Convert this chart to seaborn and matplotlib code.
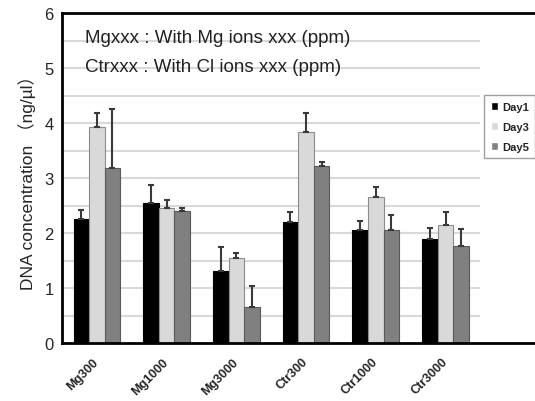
import numpy as np
import pandas as pd
import matplotlib
matplotlib.use("Agg")
import matplotlib.pyplot as plt
import seaborn as sns

categories = ["Mg300", "Mg1000", "Mg3000", "Ctr300", "Ctr1000", "Ctr3000"]
days = ["Day1", "Day3", "Day5"]
day1 = [2.25, 2.55, 1.31, 2.20, 2.05, 1.90]
day3 = [3.93, 2.45, 1.54, 3.83, 2.65, 2.14]
day5 = [3.18, 2.40, 0.66, 3.21, 2.05, 1.77]
day1_err = [0.17, 0.32, 0.44, 0.18, 0.16, 0.20]
day3_err = [0.25, 0.15, 0.10, 0.35, 0.18, 0.24]
day5_err = [1.07, 0.05, 0.38, 0.09, 0.28, 0.30]
yticks = [0, 1, 2, 3, 4, 5, 6]
note_lines = ["Mgxxx : With Mg ions xxx (ppm)", "Ctrxxx : With Cl ions xxx (ppm)"]
ylabel = "DNA concentration \uff08ng/\u00b5l\uff09"

values = {"Day1": day1, "Day3": day3, "Day5": day5}
errors = {"Day1": day1_err, "Day3": day3_err, "Day5": day5_err}
rows = []
for d in days:
    for c, v, e in zip(categories, values[d], errors[d]):
        rows.append({"group": c, "day": d, "value": v, "err": e})
df = pd.DataFrame(rows)

sns.set_style("white")
plt.rcParams["font.family"] = ["Liberation Sans", "Noto Sans CJK JP", "DejaVu Sans"]

fig = plt.figure(figsize=(5.35, 4.02), dpi=100)
ax = fig.add_axes([62 / 535, 1 - 344 / 402, 1 - 62 / 535 + 0.01, (344 - 14) / 402])

palette = {"Day1": "#000000", "Day3": "#d9d9d9", "Day5": "#808080"}
edges = {"Day1": "#000000", "Day3": "#8c8c8c", "Day5": "#5a5a5a"}

# grid lines (behind bars)
ax.hlines(np.arange(0.5, 6.0, 0.5), -0.5, 5.5, colors="#d9d9d9", linewidth=1.5, zorder=0)

sns.barplot(data=df, x="group", y="value", hue="day", order=categories,
            hue_order=days, palette=palette, width=0.67, gap=0,
            errorbar=None, ax=ax, zorder=2, saturation=1, legend=True)

for container, d in zip(ax.containers, days):
    for patch, e in zip(container.patches, errors[d]):
        patch.set_edgecolor(edges[d])
        patch.set_linewidth(0.8)
        xc = patch.get_x() + patch.get_width() / 2
        h = patch.get_height()
        ax.errorbar([xc], [h], yerr=[[0], [e]], fmt="none", ecolor="#3a3a3a",
                    elinewidth=1.5, capsize=2.5, capthick=1.5, zorder=3)

ax.set_xlim(-0.5, 6.36)
ax.set_ylim(0, 6)
ax.set_yticks(yticks)
ax.set_yticklabels([str(t) for t in yticks], fontsize=12)
ax.tick_params(axis="y", length=0, pad=6)

ax.set_xticks(range(len(categories)))
ax.set_xticklabels(categories, rotation=45, ha="right", va="center",
                   rotation_mode="anchor", fontsize=9, fontweight="bold")
ax.tick_params(axis="x", length=0, pad=12)
ax.set_xticks(np.arange(-0.5, 6.0, 1.0), minor=True)
ax.tick_params(axis="x", which="minor", length=4, width=1, color="#333333", direction="out")

ax.set_xlabel("")
ax.set_ylabel(ylabel, fontsize=12.5, labelpad=6)

for s in ["left", "bottom", "top"]:
    ax.spines[s].set_visible(True)
    ax.spines[s].set_color("black")
    ax.spines[s].set_linewidth(2)
ax.spines["right"].set_visible(False)

ax.text(-0.17, 5.56, note_lines[0], fontsize=13.5, va="center", ha="left", color="#222222")
ax.text(-0.17, 5.02, note_lines[1], fontsize=13.5, va="center", ha="left", color="#222222")

handles, labels = ax.get_legend_handles_labels()
ax.get_legend().remove()
leg = fig.legend(handles, labels, loc="upper left", bbox_to_anchor=(484 / 535, 1 - 96 / 402),
                 frameon=True, fancybox=False, edgecolor="#888888",
                 handlelength=0.7, handleheight=0.7, handletextpad=0.3, labelspacing=0.9,
                 borderpad=0.6, borderaxespad=0, prop={"weight": "bold", "size": 8})
leg.get_frame().set_linewidth(1)

fig.savefig("out.png", dpi=100)
